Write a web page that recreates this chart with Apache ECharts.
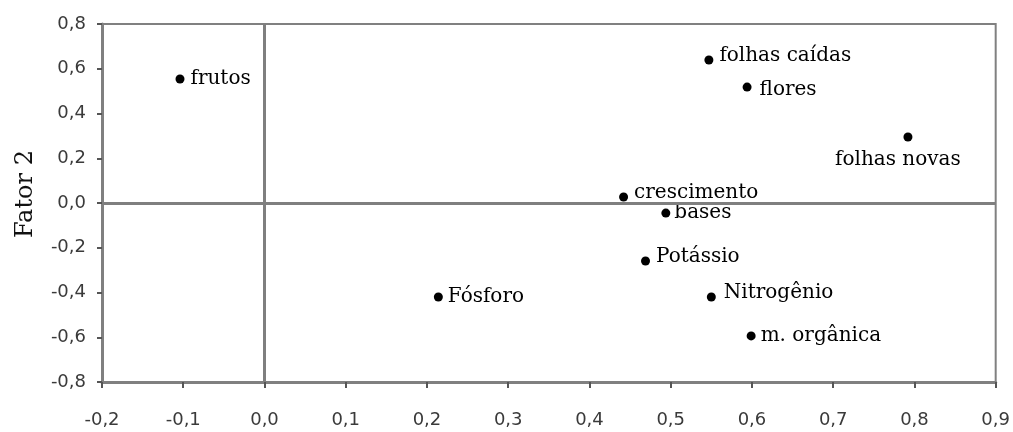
<!DOCTYPE html>
<html>
<head>
<meta charset="utf-8">
<script src="https://cdn.jsdelivr.net/npm/echarts@6/dist/echarts.min.js"></script>
<style>html,body{margin:0;padding:0;background:#fff}#c{width:1013px;height:432px}</style>
</head>
<body>
<div id="c"></div>
<script>
// Data
var names = ['frutos','folhas caídas','flores','folhas novas','crescimento','bases','Potássio','Fósforo','Nitrogênio','m. orgânica'];
var fator1 = [-0.104, 0.547, 0.594, 0.792, 0.442, 0.494, 0.469, 0.214, 0.550, 0.599];
var fator2 = [0.554, 0.639, 0.518, 0.295, 0.027, -0.045, -0.259, -0.420, -0.420, -0.594];
var xTicks = [-0.2,-0.1,0.0,0.1,0.2,0.3,0.4,0.5,0.6,0.7,0.8,0.9];
var yTicks = [-0.8,-0.6,-0.4,-0.2,0.0,0.2,0.4,0.6,0.8];

// label styling per point (style only)
var labelStyle = {
  'frutos': {offset:[0,0]},
  'folhas caídas': {offset:[0,-4]},
  'flores': {offset:[2,3]},
  'folhas novas': {position:'bottom', offset:[-10,2]},
  'crescimento': {offset:[0,-4]},
  'bases': {offset:[-2,0]},
  'Potássio': {offset:[0,-4]},
  'Fósforo': {offset:[-1,0]},
  'Nitrogênio': {offset:[2,-4]},
  'm. orgânica': {offset:[-1,0]}
};

var pts = names.map(function(n,i){
  var ls = labelStyle[n] || {};
  return {name:n, value:[fator1[i], fator2[i]], label:{position: ls.position || 'right', offset: ls.offset || [0,0]}};
});

function fmt(v){ return (Math.round(v*10)/10).toFixed(1).replace('.', ','); }

var chart = echarts.init(document.getElementById('c'), null, {renderer:'canvas'});
chart.setOption({
  animation:false,
  backgroundColor:'#fff',
  grid:{left:102, right:16, top:24, bottom:50, show:true, borderColor:'#808080', borderWidth:2, backgroundColor:'transparent'},
  xAxis:{
    type:'value', min:xTicks[0], max:xTicks[xTicks.length-1], interval:0.1,
    splitLine:{show:false},
    axisLine:{show:true, onZero:false, lineStyle:{color:'#808080', width:3}},
    axisTick:{show:true, length:6, lineStyle:{color:'#555', width:2}},
    axisLabel:{formatter:fmt, margin:29, fontFamily:'DejaVu Sans', fontSize:18, color:'#3a3a3a'}
  },
  yAxis:{
    type:'value', min:yTicks[0], max:yTicks[yTicks.length-1], interval:0.2,
    name:'Fator 2', nameLocation:'middle', nameGap:64, nameRotate:90,
    nameTextStyle:{fontFamily:'DejaVu Serif', fontSize:24, color:'#111', padding:[0,0,0,18]},
    splitLine:{show:false},
    axisLine:{show:true, onZero:false, lineStyle:{color:'#808080', width:3}},
    axisTick:{show:true, length:5, lineStyle:{color:'#555', width:2}},
    axisLabel:{formatter:fmt, margin:16, fontFamily:'DejaVu Sans', fontSize:18, color:'#3a3a3a'}
  },
  series:[{
    type:'scatter',
    symbol:'circle', symbolSize:9,
    itemStyle:{color:'#000', opacity:1},
    label:{show:true, formatter:'{b}', distance:6, fontFamily:'DejaVu Serif', fontSize:20, color:'#000', opacity:1},
    data:pts,
    markLine:{
      silent:true, symbol:'none', animation:false,
      label:{show:false},
      lineStyle:{color:'#7f7f7f', width:3, type:'solid', opacity:1},
      data:[{xAxis:0},{yAxis:0}]
    },
    z:3
  }]
});
</script>
</body>
</html>
